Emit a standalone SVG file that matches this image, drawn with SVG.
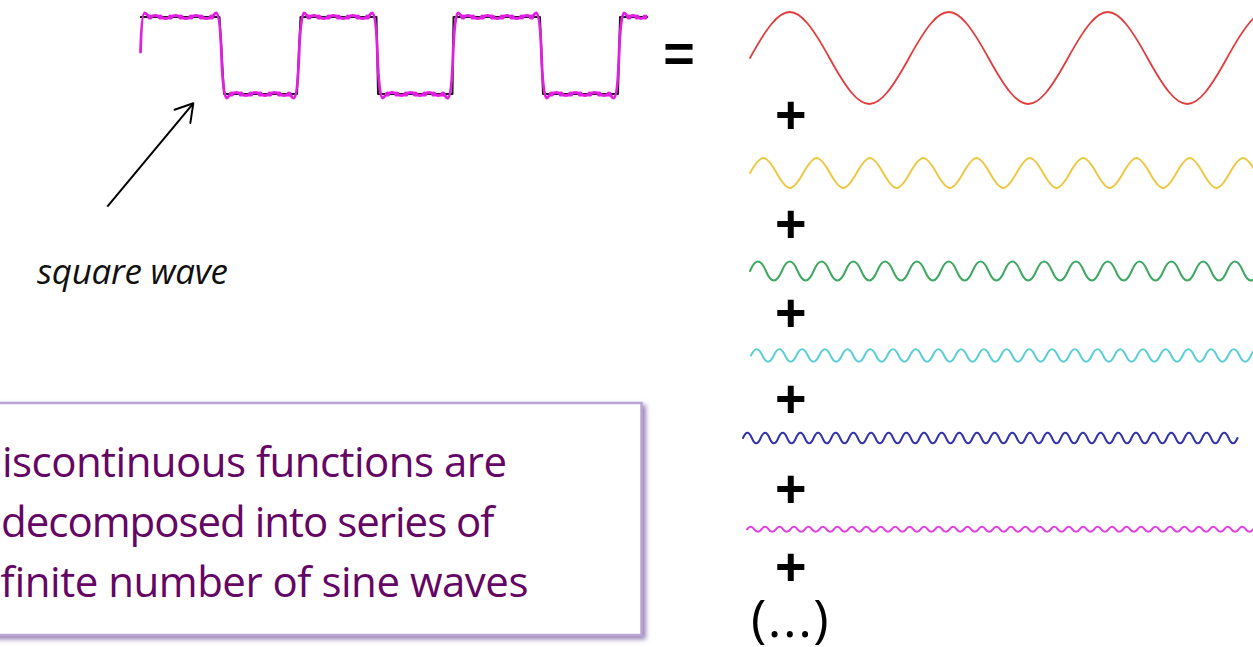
<svg xmlns="http://www.w3.org/2000/svg" width="1253" height="647" viewBox="0 0 1253 647">
<defs>
<style>
.blk{fill:none;stroke:#1a1a1a;stroke-width:2;stroke-linejoin:round}
.mag{fill:none;stroke:#e01fe0;stroke-width:2.8;stroke-linejoin:round;stroke-linecap:round}
.wave{fill:none;stroke-linejoin:round;stroke-linecap:round}
.sym{font-family:"Liberation Sans",Arial,sans-serif;font-size:54px;font-weight:bold;fill:#000;text-anchor:middle}
.note{font-family:"Open Sans","Noto Sans",sans-serif;font-size:42px;fill:#650565}
.lbl{font-family:"Open Sans","Noto Sans",sans-serif;font-size:35px;font-style:italic;fill:#111}
</style>
<marker id="dot" markerUnits="userSpaceOnUse" markerWidth="7" markerHeight="7" refX="3.5" refY="3.5" viewBox="0 0 7 7">
<circle cx="3.5" cy="3.5" r="2.6" fill="#e01fe0"/>
</marker>
<marker id="openArrow" markerUnits="userSpaceOnUse" markerWidth="40" markerHeight="40" viewBox="-20 -20 40 40" refX="0" refY="0" orient="auto" overflow="visible">
<path d="M -17 -10.3 L 0 0 L -17 10.3" fill="none" stroke="#000" stroke-width="2" stroke-linecap="round" stroke-linejoin="round"/>
</marker>
<filter id="shadow" x="-5%" y="-8%" width="115%" height="125%">
<feDropShadow dx="3" dy="3" stdDeviation="2.5" flood-color="#8a6fae" flood-opacity="0.9"/>
</filter>
</defs>
<rect width="1253" height="647" fill="#fff"/>

<g id="square-wave">
<path class="blk" d="M 140 17 H 219.5 L 224 94 H 297 L 300.5 17 H 376.5 L 378 94 H 452.5 L 453.5 17 H 540 L 543 94 H 618 L 620 17 H 648"/>
<path class="mag" d="M 140.5 52 C 141 35 142 13 144.5 13 C 147 13 148 17 150 17
q 5.125 -3 10.25 0 t 10.25 0 t 10.25 0 t 10.25 0 t 10.25 0 t 10.25 0
C 213.5 17 214.5 12 216.5 13 C 218.5 14 220.5 27 221.5 55.5 C 222.5 84 224.5 98 226.5 98 C 228.5 98 229.5 94 231.5 94
q 4.79 -3 9.583 0 t 9.583 0 t 9.583 0 t 9.583 0 t 9.583 0 t 9.583 0
C 291 94 292 99 294 98 C 296 97 298 84 299 55.5 C 300 27 302 13 304 13 C 306 13 307 17 309 17
q 4.875 -3 9.75 0 t 9.75 0 t 9.75 0 t 9.75 0 t 9.75 0 t 9.75 0
C 369.5 17 370.5 12 372.5 13 C 374.5 14 376.5 27 377.5 55.5 C 378.5 84 380.5 98 382.5 98 C 384.5 98 385.5 94 387.5 94
q 4.625 -3 9.25 0 t 9.25 0 t 9.25 0 t 9.25 0 t 9.25 0 t 9.25 0
C 445 94 446 99 448 98 C 450 97 452 84 453 55.5 C 454 27 456 13 458 13 C 460 13 461 17 463 17
q 4.893 -3 9.786 0 t 9.786 0 t 9.786 0 t 9.786 0 t 9.786 0 t 9.786 0 t 9.786 0
C 533.5 17 534.5 12 536.5 13 C 538.5 14 540.5 27 541.5 55.5 C 542.5 84 544.5 98 546.5 98 C 548.5 98 549.5 94 551.5 94
q 4.79 -3 9.583 0 t 9.583 0 t 9.583 0 t 9.583 0 t 9.583 0 t 9.583 0
C 611 94 612 99 614 98 C 616 97 618 84 619 55.5 C 620 27 622 13 624 13 C 626 13 627 17 629 17
q 4 -3 8 0 t 8 0"/>
<path fill="none" stroke="none" marker-start="url(#dot)" marker-mid="url(#dot)" marker-end="url(#dot)" d="M 150 17 h 10.25 h 10.25 h 10.25 h 10.25 h 10.25 h 10.25
M 231.5 94 h 9.583 h 9.583 h 9.583 h 9.583 h 9.583 h 9.583
M 309 17 h 9.75 h 9.75 h 9.75 h 9.75 h 9.75 h 9.75
M 387.5 94 h 9.25 h 9.25 h 9.25 h 9.25 h 9.25 h 9.25
M 463 17 h 9.786 h 9.786 h 9.786 h 9.786 h 9.786 h 9.786 h 9.786
M 551.5 94 h 9.583 h 9.583 h 9.583 h 9.583 h 9.583 h 9.583
M 629 17 h 8 h 8"/>
</g>

<g id="label-square-wave">
<text class="lbl" x="37" y="284" textLength="191" lengthAdjust="spacing">square wave</text>
</g>

<g id="connectors">
<path d="M 107.3 206.7 L 193.3 103.3" fill="none" stroke="#000" stroke-width="2" marker-end="url(#openArrow)"/>
</g>

<g id="equals">
<text class="sym" x="679" y="72">=</text>
</g>

<g id="harmonic-1">
<path class="wave" stroke="#e23c3c" stroke-width="1.8" d="M 750 58 c 33.74 -61.33 45.76 -61.33 79.5 0 s 45.76 61.33 79.5 0 s 45.76 -61.33 79.5 0 s 45.76 61.33 79.5 0 s 45.76 -61.33 79.5 0 s 45.76 61.33 79.5 0 s 45.76 -61.33 79.5 0"/>
</g>
<g id="harmonic-3">
<path class="wave" stroke="#eec843" stroke-width="2" d="M 750 173 c 11.31 -20 15.34 -20 26.65 0 s 15.34 20 26.65 0 s 15.34 -20 26.65 0 s 15.34 20 26.65 0 s 15.34 -20 26.65 0 s 15.34 20 26.65 0 s 15.34 -20 26.65 0 s 15.34 20 26.65 0 s 15.34 -20 26.65 0 s 15.34 20 26.65 0 s 15.34 -20 26.65 0 s 15.34 20 26.65 0 s 15.34 -20 26.65 0 s 15.34 20 26.65 0 s 15.34 -20 26.65 0 s 15.34 20 26.65 0 s 15.34 -20 26.65 0 s 15.34 20 26.65 0 s 15.34 -20 26.65 0"/>
</g>
<g id="harmonic-5">
<path class="wave" stroke="#3fa862" stroke-width="2" d="M 750 271 q 7.95 -19 15.9 0 t 15.9 0 t 15.9 0 t 15.9 0 t 15.9 0 t 15.9 0 t 15.9 0 t 15.9 0 t 15.9 0 t 15.9 0 t 15.9 0 t 15.9 0 t 15.9 0 t 15.9 0 t 15.9 0 t 15.9 0 t 15.9 0 t 15.9 0 t 15.9 0 t 15.9 0 t 15.9 0 t 15.9 0 t 15.9 0 t 15.9 0 t 15.9 0 t 15.9 0 t 15.9 0 t 15.9 0 t 15.9 0 t 15.9 0 t 15.9 0 t 15.9 0"/>
</g>
<g id="harmonic-7">
<path class="wave" stroke="#5ccfd6" stroke-width="2" d="M 751 355.5 q 5.68 -12.4 11.36 0 t 11.36 0 t 11.36 0 t 11.36 0 t 11.36 0 t 11.36 0 t 11.36 0 t 11.36 0 t 11.36 0 t 11.36 0 t 11.36 0 t 11.36 0 t 11.36 0 t 11.36 0 t 11.36 0 t 11.36 0 t 11.36 0 t 11.36 0 t 11.36 0 t 11.36 0 t 11.36 0 t 11.36 0 t 11.36 0 t 11.36 0 t 11.36 0 t 11.36 0 t 11.36 0 t 11.36 0 t 11.36 0 t 11.36 0 t 11.36 0 t 11.36 0 t 11.36 0 t 11.36 0 t 11.36 0 t 11.36 0 t 11.36 0 t 11.36 0 t 11.36 0 t 11.36 0 t 11.36 0 t 11.36 0 t 11.36 0 t 11.36 0 t 11.36 0"/>
</g>
<g id="harmonic-9">
<path class="wave" stroke="#3333b0" stroke-width="2" d="M 743 438 q 4.415 -10.6 8.83 0 t 8.83 0 t 8.83 0 t 8.83 0 t 8.83 0 t 8.83 0 t 8.83 0 t 8.83 0 t 8.83 0 t 8.83 0 t 8.83 0 t 8.83 0 t 8.83 0 t 8.83 0 t 8.83 0 t 8.83 0 t 8.83 0 t 8.83 0 t 8.83 0 t 8.83 0 t 8.83 0 t 8.83 0 t 8.83 0 t 8.83 0 t 8.83 0 t 8.83 0 t 8.83 0 t 8.83 0 t 8.83 0 t 8.83 0 t 8.83 0 t 8.83 0 t 8.83 0 t 8.83 0 t 8.83 0 t 8.83 0 t 8.83 0 t 8.83 0 t 8.83 0 t 8.83 0 t 8.83 0 t 8.83 0 t 8.83 0 t 8.83 0 t 8.83 0 t 8.83 0 t 8.83 0 t 8.83 0 t 8.83 0 t 8.83 0 t 8.83 0 t 8.83 0 t 8.83 0 t 8.83 0 t 8.83 0 t 8.83 0"/>
</g>
<g id="harmonic-11">
<path class="wave" stroke="#e040e0" stroke-width="2" d="M 747 529.3 q 3.615 -5 7.23 0 t 7.23 0 t 7.23 0 t 7.23 0 t 7.23 0 t 7.23 0 t 7.23 0 t 7.23 0 t 7.23 0 t 7.23 0 t 7.23 0 t 7.23 0 t 7.23 0 t 7.23 0 t 7.23 0 t 7.23 0 t 7.23 0 t 7.23 0 t 7.23 0 t 7.23 0 t 7.23 0 t 7.23 0 t 7.23 0 t 7.23 0 t 7.23 0 t 7.23 0 t 7.23 0 t 7.23 0 t 7.23 0 t 7.23 0 t 7.23 0 t 7.23 0 t 7.23 0 t 7.23 0 t 7.23 0 t 7.23 0 t 7.23 0 t 7.23 0 t 7.23 0 t 7.23 0 t 7.23 0 t 7.23 0 t 7.23 0 t 7.23 0 t 7.23 0 t 7.23 0 t 7.23 0 t 7.23 0 t 7.23 0 t 7.23 0 t 7.23 0 t 7.23 0 t 7.23 0 t 7.23 0 t 7.23 0 t 7.23 0 t 7.23 0 t 7.23 0 t 7.23 0 t 7.23 0 t 7.23 0 t 7.23 0 t 7.23 0 t 7.23 0 t 7.23 0 t 7.23 0 t 7.23 0 t 7.23 0 t 7.23 0 t 7.23 0"/>
</g>

<g id="plus-signs">
<text class="sym" x="790.7" y="133">+</text>
<text class="sym" x="790.7" y="242">+</text>
<text class="sym" x="790.7" y="330.5">+</text>
<text class="sym" x="790.7" y="417">+</text>
<text class="sym" x="790.7" y="506.5">+</text>
<text class="sym" x="790.7" y="585">+</text>
</g>

<g id="ellipsis">
<text x="751" y="637" font-family="'Open Sans','Noto Sans',sans-serif" font-size="52" letter-spacing="1.5" fill="#000">(...)</text>
</g>

<g id="note">
<rect x="-10" y="403" width="651.5" height="232" fill="#fff" stroke="#bba5d4" stroke-width="2.5" filter="url(#shadow)"/>
<text class="note" x="2" y="477" textLength="505" lengthAdjust="spacing">iscontinuous functions are</text>
<text class="note" x="1" y="537" textLength="493.5" lengthAdjust="spacing">decomposed into series of</text>
<text class="note" x="0" y="597" textLength="528" lengthAdjust="spacing">finite number of sine waves</text>
</g>
</svg>
